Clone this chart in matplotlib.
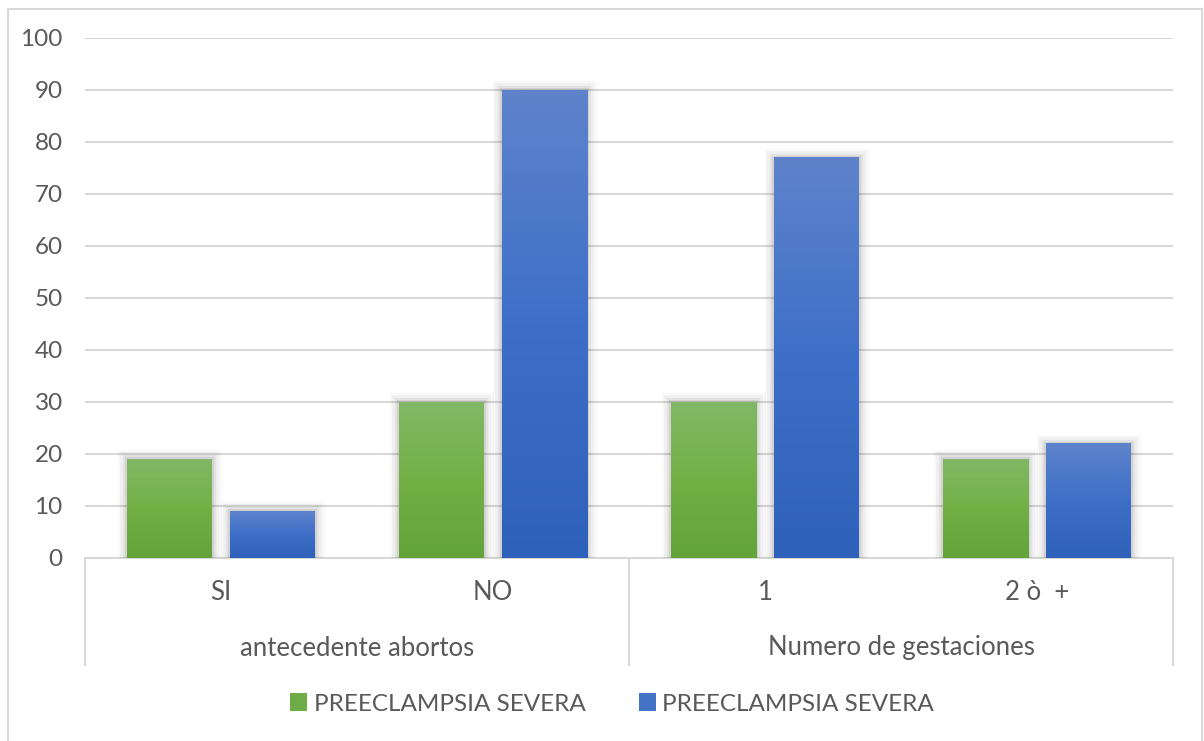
import numpy as np
import matplotlib
matplotlib.use("Agg")
import matplotlib.pyplot as plt
from matplotlib.colors import LinearSegmentedColormap
from matplotlib.patches import Rectangle
from matplotlib.lines import Line2D
import matplotlib.patheffects as pe

# --- data ---
groups = ["antecedente abortos", "Numero de gestaciones"]
categories = ["SI", "NO", "1", "2 ò  +"]
series_names = ["PREECLAMPSIA SEVERA", "PREECLAMPSIA SEVERA"]
green_values = [19, 30, 30, 19]
blue_values = [9, 90, 77, 22]
y_ticks = [0, 10, 20, 30, 40, 50, 60, 70, 80, 90, 100]

plt.rcParams["font.family"] = ["Lato", "DejaVu Sans"]
TEXT = "#595959"
GRID = "#D9D9D9"
FS = 17.5
FS_CAT = 18.5

fig = plt.figure(figsize=(12.04, 7.41), dpi=100)
W, H = 1204, 741
ax = fig.add_axes([85 / W, 1 - 558 / H, (1173 - 85) / W, (558 - 38) / H])

# chart outline (left, top, right)
fig.add_artist(Line2D([8 / W, 8 / W], [0, 1 - 9 / H], color=GRID, lw=1.5))
fig.add_artist(Line2D([8 / W, 1202 / W], [1 - 9 / H, 1 - 9 / H], color=GRID, lw=1.5))
fig.add_artist(Line2D([1202 / W, 1202 / W], [0, 1 - 9 / H], color=GRID, lw=1.5))

ax.set_yticks(y_ticks)
ax.set_yticklabels([str(t) for t in y_ticks], fontsize=FS, color=TEXT)
ax.tick_params(axis="y", length=0, pad=16)
ax.set_xticks([])
for s in ["left", "right", "top"]:
    ax.spines[s].set_visible(False)
ax.spines["bottom"].set_color(GRID)
ax.spines["bottom"].set_linewidth(1.5)
ax.spines["bottom"].set_zorder(1)
ax.yaxis.grid(True, color=GRID, lw=1.5, zorder=0)
ax.set_axisbelow(True)

green_cmap = LinearSegmentedColormap.from_list("g", ["#62A33A", "#72B046", "#82B866"])
blue_cmap = LinearSegmentedColormap.from_list("b", ["#2E61B9", "#3E6FC8", "#5E83CB"])

width = 0.3125
offset = 0.19
grad = np.linspace(0, 1, 256).reshape(-1, 1)
shadow = [pe.Stroke(linewidth=w, foreground="#000000", alpha=a)
          for w, a in [(14, 0.025), (10, 0.035), (6, 0.05), (3, 0.07)]]

x = np.arange(len(categories))
for vals, cmap, dx in [(green_values, green_cmap, -offset), (blue_values, blue_cmap, offset)]:
    for xi, v in zip(x, vals):
        x0, x1 = xi + dx - width / 2, xi + dx + width / 2
        r = Rectangle((x0, 0), width, v, facecolor="none", edgecolor="none", zorder=2)
        r.set_path_effects(shadow)
        ax.add_patch(r)
        ax.imshow(grad, cmap=cmap, origin="lower", aspect="auto",
                  extent=[x0, x1, 0, v], zorder=3, interpolation="bilinear")
ax.set_xlim(-0.5, len(categories) - 0.5)
ax.set_ylim(0, 100)

# two-level category axis
tr = ax.get_xaxis_transform()
ax_h = 558 - 38
sep_bottom = -(665 - 558) / ax_h
for xs in [-0.5, 1.5, 3.5]:
    ax.add_line(Line2D([xs, xs], [0, sep_bottom], transform=tr, color=GRID,
                       lw=1.5, clip_on=False))
for xi, lab in zip(x, categories):
    ax.text(xi, -(592 - 558) / ax_h, lab, transform=tr, ha="center", va="center",
            fontsize=FS_CAT, color=TEXT)
for gi, g in enumerate(groups):
    ax.text(gi * 2 + 0.5, -(648 - 558) / ax_h, g, transform=tr, ha="center",
            va="center", fontsize=FS_CAT, color=TEXT)

# legend
handles = [Rectangle((0, 0), 1, 1, facecolor="#6EAC48", edgecolor="none"),
           Rectangle((0, 0), 1, 1, facecolor="#4472C4", edgecolor="none")]
fig.legend(handles, series_names, loc="center", ncol=2,
           bbox_to_anchor=(612 / W, 1 - 704 / H), frameon=False,
           fontsize=FS, labelcolor=TEXT, handlelength=0.7, handleheight=0.7,
           handletextpad=0.25, columnspacing=2.2)

fig.savefig("out.png", dpi=100, facecolor="white")
